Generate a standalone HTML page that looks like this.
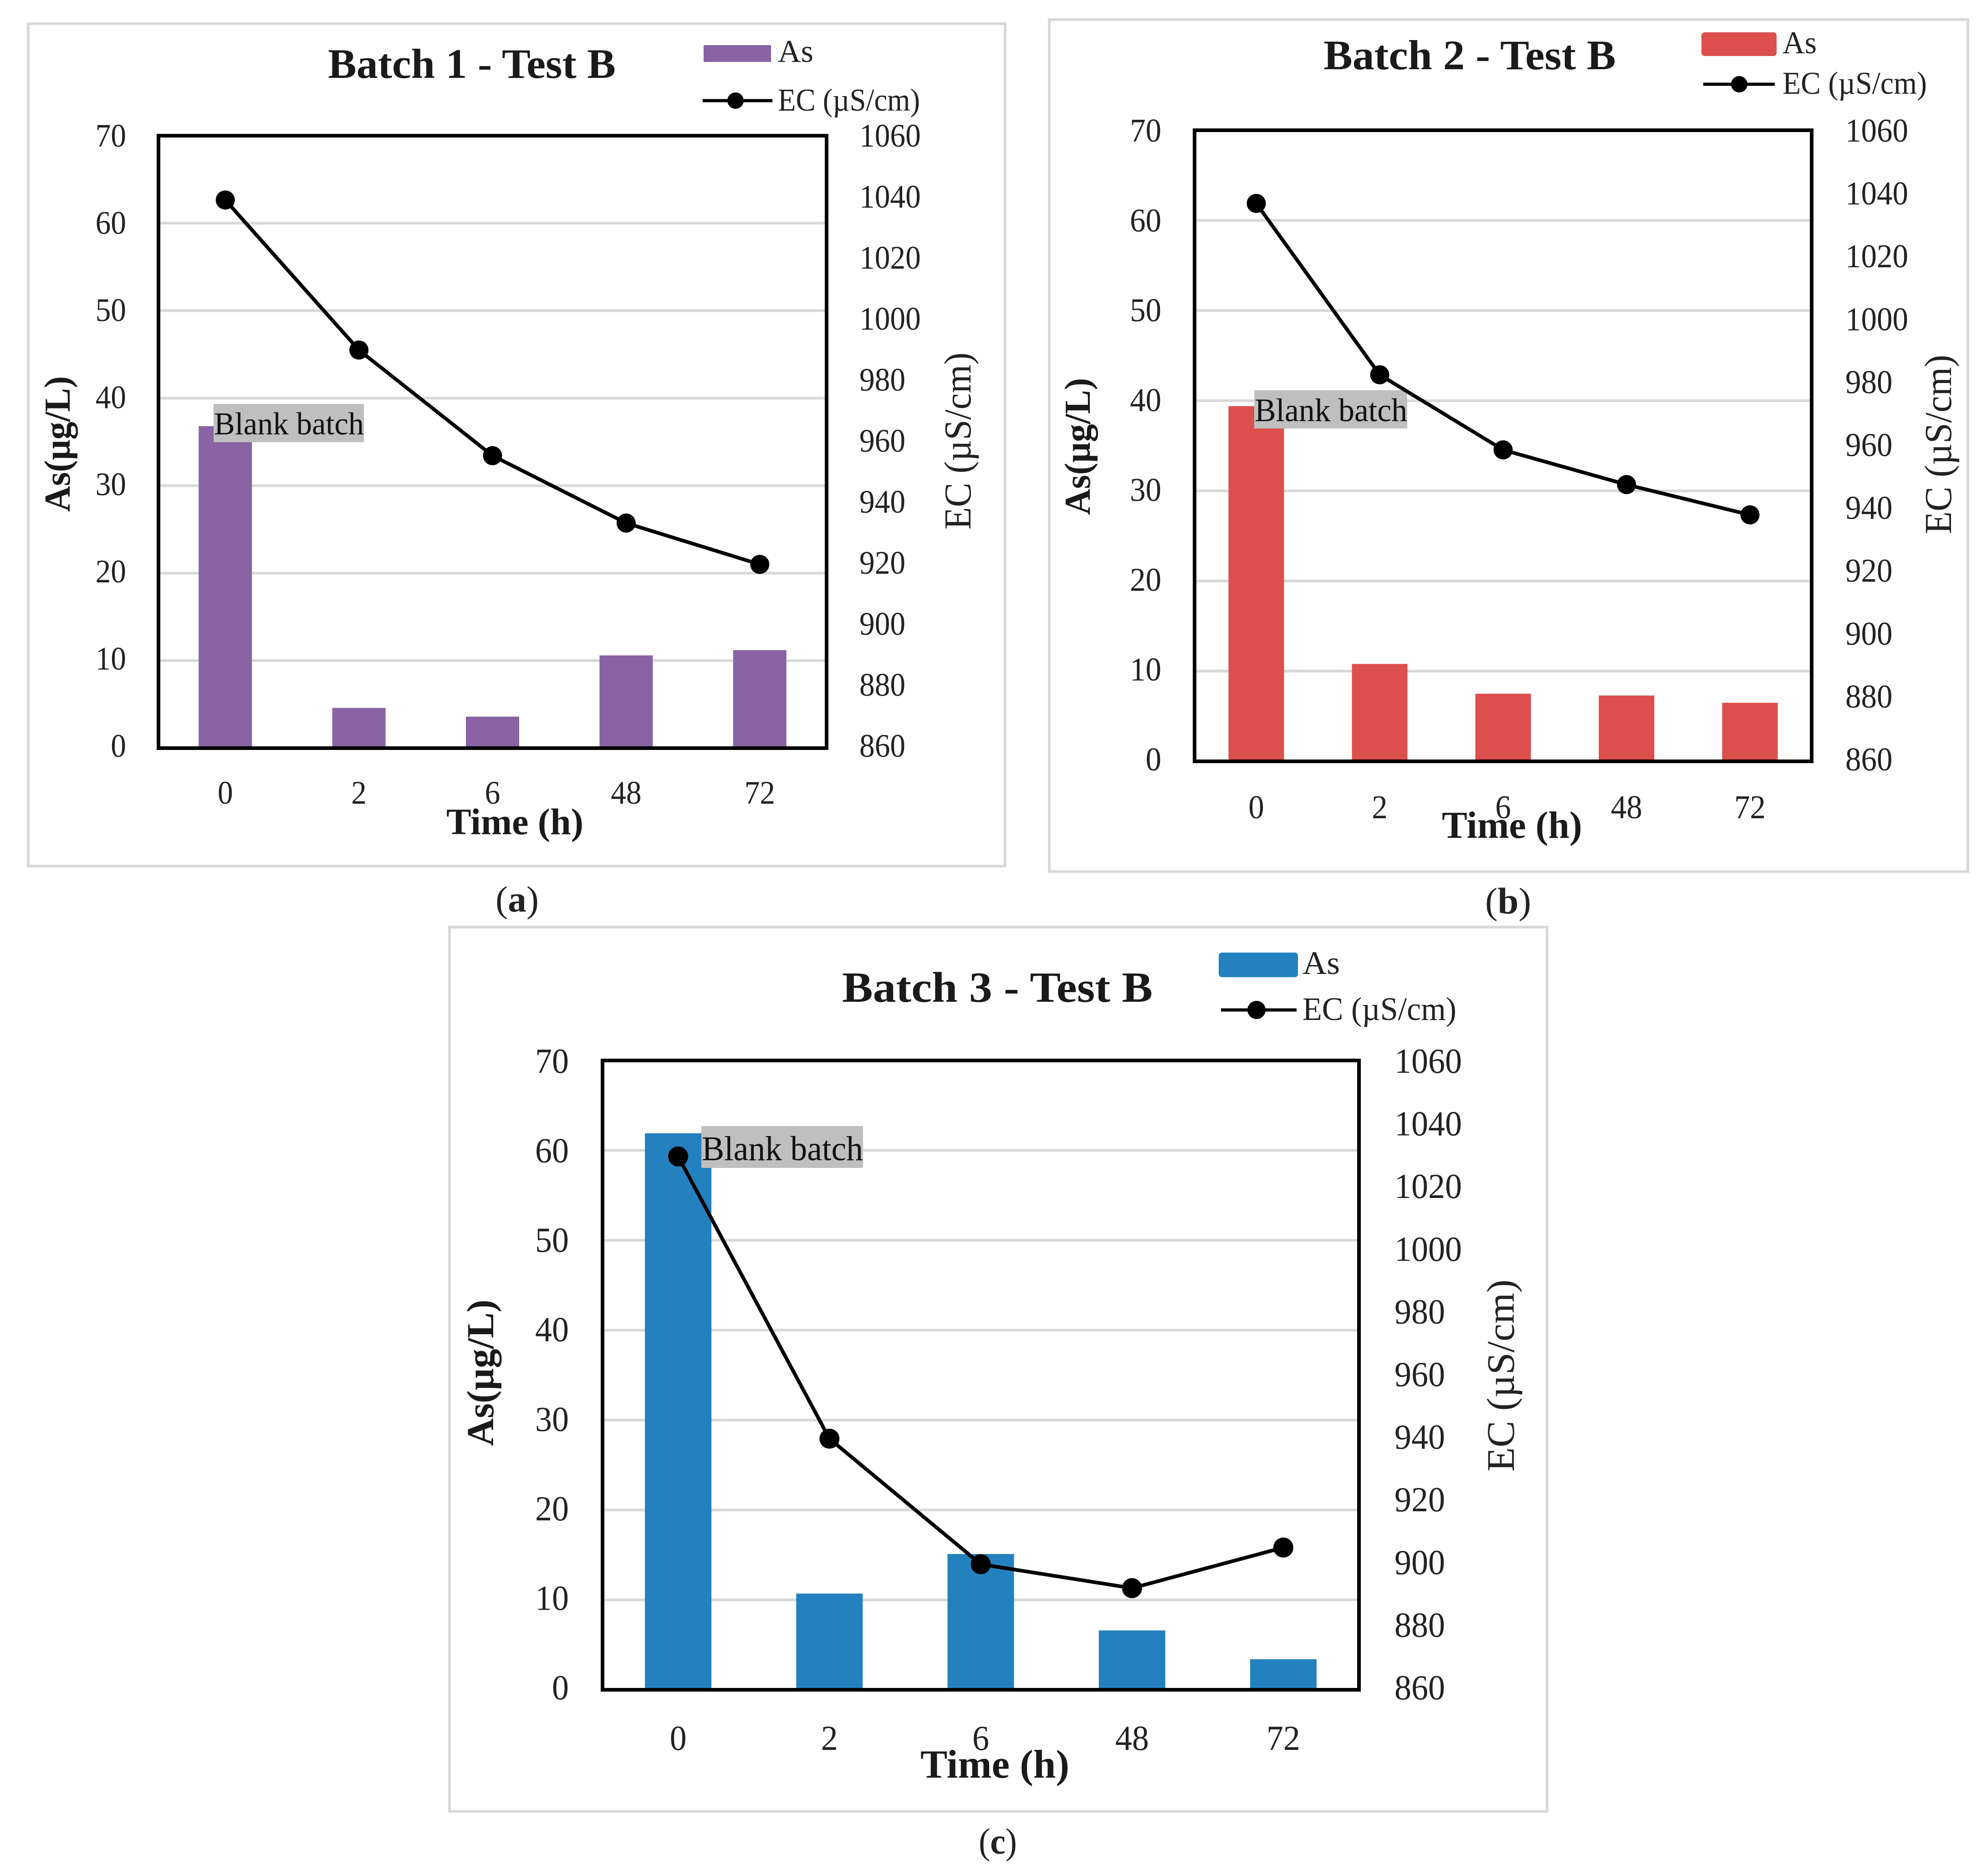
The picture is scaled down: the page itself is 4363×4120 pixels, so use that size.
<!DOCTYPE html>
<html lang="en">
<head>
<meta charset="utf-8">
<title>Batch tests: As and EC over time</title>
<style>
html,body{margin:0;padding:0;background:#fff;}
svg{display:block;}
text{font-family:"Liberation Serif",serif;fill:#222222;}
.title,.axis-bold{font-weight:bold;fill:#1a1a1a;}
</style>
</head>
<body>
<svg id="figure" xmlns="http://www.w3.org/2000/svg" width="4363" height="4120" viewBox="0 0 4363 4120">
  <rect x="0" y="0" width="4363" height="4120" fill="#ffffff"/>

  <g id="panel-a">
    <rect x="62" y="52" width="2145" height="1850" fill="#fff" stroke="#d9d9d9" stroke-width="6"/>
    <g class="plot"></g>
    <text class="title" x="720" y="171" font-size="92" textLength="632" lengthAdjust="spacingAndGlyphs">Batch 1 - Test B</text>
    <rect x="1545" y="99" width="148" height="37" fill="#8963a3"/>
    <text x="1708" y="136" font-size="70" textLength="78" lengthAdjust="spacingAndGlyphs">As</text>
    <line x1="1543" y1="221" x2="1696" y2="221" stroke="#000" stroke-width="7"/>
    <circle cx="1615" cy="221" r="18" fill="#000"/>
    <text x="1708" y="243" font-size="70" textLength="312" lengthAdjust="spacingAndGlyphs">EC (µS/cm)</text>
    <text class="axis-bold" transform="translate(153 1124) rotate(-90)" font-size="80" textLength="298" lengthAdjust="spacingAndGlyphs">As(µg/L)</text>
    <text transform="translate(2131 1163) rotate(-90)" font-size="84" textLength="389" lengthAdjust="spacingAndGlyphs">EC (µS/cm)</text>
    <text class="axis-bold" x="980" y="1832" font-size="82" textLength="301" lengthAdjust="spacingAndGlyphs">Time (h)</text>
    <text x="1088" y="2002" font-size="80" textLength="95" lengthAdjust="spacingAndGlyphs">(<tspan font-weight="bold">a</tspan>)</text>
  </g>

  <g id="panel-b">
    <rect x="2304" y="43" width="2017" height="1871" fill="#fff" stroke="#d9d9d9" stroke-width="6"/>
    <g class="plot"></g>
    <text class="title" x="2906" y="152" font-size="92" textLength="642" lengthAdjust="spacingAndGlyphs">Batch 2 - Test B</text>
    <rect x="3736" y="71" width="165" height="52" rx="7" fill="#dc4f4d"/>
    <text x="3914" y="117" font-size="70" textLength="75" lengthAdjust="spacingAndGlyphs">As</text>
    <line x1="3740" y1="185" x2="3897" y2="185" stroke="#000" stroke-width="7"/>
    <circle cx="3819" cy="185" r="18" fill="#000"/>
    <text x="3914" y="206" font-size="70" textLength="317" lengthAdjust="spacingAndGlyphs">EC (µS/cm)</text>
    <text class="axis-bold" transform="translate(2393 1131) rotate(-90)" font-size="80" textLength="301" lengthAdjust="spacingAndGlyphs">As(µg/L)</text>
    <text transform="translate(4284 1173) rotate(-90)" font-size="84" textLength="394" lengthAdjust="spacingAndGlyphs">EC (µS/cm)</text>
    <text class="axis-bold" x="3166" y="1840" font-size="84" textLength="308" lengthAdjust="spacingAndGlyphs">Time (h)</text>
    <text x="3261" y="2006" font-size="82" textLength="101" lengthAdjust="spacingAndGlyphs">(<tspan font-weight="bold">b</tspan>)</text>
  </g>

  <g id="panel-c">
    <rect x="987" y="2036" width="2410" height="1942" fill="#fff" stroke="#d9d9d9" stroke-width="6"/>
    <g class="plot"></g>
    <text class="title" x="1849" y="2200" font-size="94" textLength="682" lengthAdjust="spacingAndGlyphs">Batch 3 - Test B</text>
    <rect x="2676" y="2092" width="174" height="54" rx="7" fill="#2381bf"/>
    <text x="2860" y="2139" font-size="72" textLength="82" lengthAdjust="spacingAndGlyphs">As</text>
    <line x1="2681" y1="2218" x2="2847" y2="2218" stroke="#000" stroke-width="7"/>
    <circle cx="2759" cy="2218" r="20" fill="#000"/>
    <text x="2860" y="2240" font-size="72" textLength="338" lengthAdjust="spacingAndGlyphs">EC (µS/cm)</text>
    <text class="axis-bold" transform="translate(1083 3176) rotate(-90)" font-size="84" textLength="322" lengthAdjust="spacingAndGlyphs">As(µg/L)</text>
    <text transform="translate(3324 3232) rotate(-90)" font-size="86" textLength="422" lengthAdjust="spacingAndGlyphs">EC (µS/cm)</text>
    <text class="axis-bold" x="2021" y="3904" font-size="88" textLength="327" lengthAdjust="spacingAndGlyphs">Time (h)</text>
    <text x="2149" y="4071" font-size="80" textLength="84" lengthAdjust="spacingAndGlyphs">(<tspan font-weight="bold">c</tspan>)</text>
  </g>
</svg>

<script>
// Chart data
const categories = ['0', '2', '6', '48', '72'];
const asTicks = [0, 10, 20, 30, 40, 50, 60, 70];
const ecTicks = [860, 880, 900, 920, 940, 960, 980, 1000, 1020, 1040, 1060];

const asBatch1 = [36.8, 4.6, 3.6, 10.6, 11.2];
const ecBatch1 = [1039, 990, 955.5, 933.5, 920];

const asBatch2 = [39.4, 10.8, 7.5, 7.3, 6.5];
const ecBatch2 = [1036.8, 982.5, 958.7, 947.7, 938.1];

const asBatch3 = [61.9, 10.7, 15.1, 6.6, 3.4];
const ecBatch3 = [1029.5, 939.8, 899.9, 892.3, 905.2];

const asMin = 0, asMax = 70, ecMin = 860, ecMax = 1060;

const panelA = { id: 'panel-a', name: 'batch-1', as: asBatch1, ec: ecBatch1, color: '#8963a3',
  left: 348, right: 1815, top: 298, bottom: 1643, barW: 117, markerR: 21,
  tickFont: 72, digitW: 33.7, offTop: 24, offBottom: 19, leftTickX: 277, rightTickX: 1887, xTickY: 1765,
  blankX: 469, blankY: 887, blankW: 330, blankH: 84, blankFont: 70, blankBase: 954 };
const panelB = { id: 'panel-b', name: 'batch-2', as: asBatch2, ec: ecBatch2, color: '#dc4f4d',
  left: 2623, right: 3978, top: 286, bottom: 1672, barW: 122, markerR: 21,
  tickFont: 73, digitW: 34.5, offTop: 25, offBottom: 20, leftTickX: 2550, rightTickX: 4052, xTickY: 1797,
  blankX: 2754, blankY: 857, blankW: 336, blankH: 84, blankFont: 72, blankBase: 925 };
const panelC = { id: 'panel-c', name: 'batch-3', as: asBatch3, ec: ecBatch3, color: '#2381bf',
  left: 1323, right: 2984, top: 2329, bottom: 3711, barW: 146, markerR: 22,
  tickFont: 77, digitW: 37, offTop: 27, offBottom: 21, leftTickX: 1249, rightTickX: 3062, xTickY: 3843,
  blankX: 1540, blankY: 2473, blankW: 355, blankH: 92, blankFont: 76, blankBase: 2548 };

const NS = 'http://www.w3.org/2000/svg';

function mk(tag, attrs, parent, content) {
  const node = document.createElementNS(NS, tag);
  for (const key in attrs) node.setAttribute(key, attrs[key]);
  if (content !== undefined) node.textContent = content;
  parent.appendChild(node);
  return node;
}

function xCat(p, i) {
  return p.left + (p.right - p.left) * (i + 0.5) / categories.length;
}
function yAs(p, v) {
  return p.bottom - (v - asMin) / (asMax - asMin) * (p.bottom - p.top);
}
function yEc(p, v) {
  return p.bottom - (v - ecMin) / (ecMax - ecMin) * (p.bottom - p.top);
}
// Tick labels sit slightly tighter than the axis span, so the baseline offset drifts along it
function labelY(p, y) {
  const frac = (p.bottom - y) / (p.bottom - p.top);
  return y + p.offBottom + (p.offTop - p.offBottom) * frac;
}

function drawPanel(p) {
  const plot = document.querySelector('#' + p.id + ' .plot');

  asTicks.forEach(function (t) {
    const y = yAs(p, t);
    if (t !== asMin && t !== asMax) {
      const grid = mk('line', { x1: p.left, x2: p.right, y1: y, y2: y, stroke: '#d9d9d9', 'stroke-width': 6 }, plot);
      
      
    }
    const text = String(t);
    const label = mk('text', { x: p.leftTickX, y: labelY(p, y), 'font-size': p.tickFont, 'text-anchor': 'end', textLength: text.length * p.digitW, lengthAdjust: 'spacingAndGlyphs' }, plot, text);
    
    
  });

  ecTicks.forEach(function (t) {
    const text = String(t);
    const label = mk('text', { x: p.rightTickX, y: labelY(p, yEc(p, t)), 'font-size': p.tickFont, textLength: text.length * p.digitW, lengthAdjust: 'spacingAndGlyphs' }, plot, text);
    
    
  });

  categories.forEach(function (c, i) {
    const cx = xCat(p, i);
    const top = yAs(p, p.as[i]);
    const bar = mk('rect', { x: cx - p.barW / 2, y: top, width: p.barW, height: p.bottom - top, fill: p.color }, plot);
    
    
    const label = mk('text', { x: cx, y: p.xTickY, 'font-size': p.tickFont, 'text-anchor': 'middle', textLength: c.length * p.digitW, lengthAdjust: 'spacingAndGlyphs' }, plot, c);
    
    
  });

  const border = mk('rect', { x: p.left, y: p.top, width: p.right - p.left, height: p.bottom - p.top, fill: 'none', stroke: '#000', 'stroke-width': 8 }, plot);
  
  

  const box = mk('rect', { x: p.blankX, y: p.blankY, width: p.blankW, height: p.blankH, fill: '#bfbfbf' }, plot);
  
  
  const blank = mk('text', { x: p.blankX + 1, y: p.blankBase, 'font-size': p.blankFont, textLength: p.blankW - 1, lengthAdjust: 'spacingAndGlyphs', style: 'fill:#111' }, plot, 'Blank batch');
  
  

  const pts = p.ec.map(function (v, i) { return xCat(p, i) + ',' + yEc(p, v); }).join(' ');
  const line = mk('polyline', { points: pts, fill: 'none', stroke: '#000', 'stroke-width': 8, 'stroke-linejoin': 'round' }, plot);
  
  

  p.ec.forEach(function (v, i) {
    const dot = mk('circle', { cx: xCat(p, i), cy: yEc(p, v), r: p.markerR, fill: '#000' }, plot);
    
    
  });
}

drawPanel(panelA);
drawPanel(panelB);
drawPanel(panelC);
</script>
</body>
</html>
